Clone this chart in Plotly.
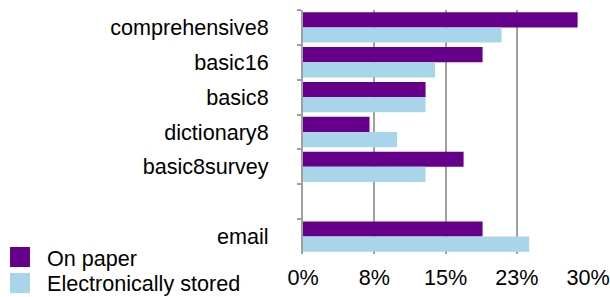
import plotly.graph_objects as go

categories = ["comprehensive8", "basic16", "basic8", "dictionary8", "basic8survey", " ", "email"]
on_paper = [28.9, 18.9, 12.9, 7.0, 16.9, None, 18.9]
electronic = [20.9, 13.9, 12.9, 9.9, 12.9, None, 23.8]
tick_vals = [0, 7.5, 15, 22.5, 30]
tick_text = ["0%", "8%", "15%", "23%", "30%"]
series_names = ["On paper", "Electronically stored"]
colors = ["#66008B", "#A8D5EA"]

FONT = "Liberation Sans, Arial, Helvetica, sans-serif"
FS = 21.6

W, H = 610, 297
ml, mr, mt, mb = 303, 21, 10, 43
pw, ph = W - ml - mr, H - mt - mb

fig = go.Figure()
for name, vals, c in zip(series_names, [on_paper, electronic], colors):
    fig.add_trace(go.Bar(y=categories, x=vals, orientation="h", name=name,
                         marker=dict(color=c, line=dict(width=0))))

def px2x(px):
    return (px - ml) / pw

def px2y(py):
    return 1 - (py - mt) / ph

shapes = []
annotations = []
leg = [(247, 267, 258), (273, 293, 283)]
for (y0, y1, yc), name, c in zip(leg, series_names, colors):
    shapes.append(dict(type="rect", xref="paper", yref="paper",
                       x0=px2x(10), x1=px2x(30), y0=px2y(y1), y1=px2y(y0),
                       fillcolor=c, line=dict(width=0)))
    annotations.append(dict(text=name, xref="paper", yref="paper",
                            x=px2x(45), y=px2y(yc), xanchor="left", yanchor="middle",
                            showarrow=False, font=dict(family=FONT, size=FS, color="#000")))

fig.update_layout(
    width=W, height=H,
    margin=dict(l=ml, r=mr, t=mt, b=mb, pad=0, autoexpand=False),
    paper_bgcolor="white", plot_bgcolor="white",
    barmode="group", bargap=0.13, bargroupgap=0,
    showlegend=False,
    font=dict(family=FONT, size=FS, color="#000"),
    shapes=shapes, annotations=annotations,
    xaxis=dict(range=[0, 30.1], tickvals=tick_vals, ticktext=tick_text,
               showgrid=True, gridcolor="#A0A0A0", gridwidth=2,
               zeroline=False, showline=False, ticks="", ticklabelstandoff=8,
               automargin=False,
               tickfont=dict(family=FONT, size=FS, color="#000")),
    yaxis=dict(autorange="reversed", type="category",
               showline=True, linecolor="#A0A0A0", linewidth=2,
               ticks="outside", tickson="boundaries", ticklen=4, tickcolor="#A0A0A0",
               tickwidth=2, showgrid=False, ticklabelstandoff=28, automargin=False,
               tickfont=dict(family=FONT, size=FS, color="#000")),
)

fig.write_html("out.html", config={"displayModeBar": False},
               post_script="document.body.style.margin='0';document.body.style.padding='0';")
